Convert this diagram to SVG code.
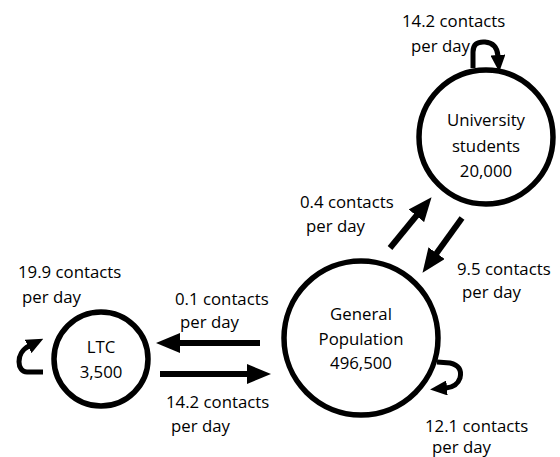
<svg xmlns="http://www.w3.org/2000/svg" width="560" height="457" viewBox="0 0 560 457">
<defs>
<style>
text{font-family:"Open Sans","Liberation Sans",sans-serif;font-size:16.8px;fill:#000}
.c{text-anchor:middle}
.node{fill:#fff;stroke:#000;stroke-width:5.5}
.arr{fill:none;stroke:#000;stroke-width:6;marker-end:url(#big)}
.loop{fill:none;stroke:#000;stroke-width:5;marker-end:url(#small)}
</style>
<marker id="big" viewBox="0 0 24 20" refX="1" refY="10" markerWidth="24" markerHeight="20" markerUnits="userSpaceOnUse" orient="auto"><path d="M0,0 L24,10 L0,20 Z" fill="#000"/></marker>
<marker id="small" viewBox="0 0 17 15" refX="1" refY="7.5" markerWidth="17" markerHeight="15" markerUnits="userSpaceOnUse" orient="auto"><path d="M0,0 L17,7.5 L0,15 Z" fill="#000"/></marker>
</defs>
<rect width="560" height="457" fill="#fff"/>
<g id="connectors">
<path class="arr" d="M260,343 L179,343"/>
<path class="arr" d="M160,374 L248,374"/>
<path class="arr" d="M390,248 L417,215"/>
<path class="arr" d="M462,218 L436,254"/>
<path class="loop" d="M473,68 L473,52 Q473,41 485,42 Q497,43 498,56"/>
<path class="loop" d="M43,372 L27,372 C17,372 15,353 29,346"/>
<path class="loop" d="M437,362 L450,363 Q463,366 460,378 Q457,387 446,388"/>
</g>
<g id="labels">
<text x="402" y="27">14.2 contacts</text>
<text x="411" y="52">per day</text>
<text x="300" y="208">0.4 contacts</text>
<text x="306" y="232">per day</text>
<text x="457" y="275">9.5 contacts</text>
<text x="462" y="298">per day</text>
<text x="425" y="432">12.1 contacts</text>
<text x="432" y="453">per day</text>
<text x="18" y="278">19.9 contacts</text>
<text x="22" y="303">per day</text>
<text x="175" y="305">0.1 contacts</text>
<text x="180" y="328">per day</text>
<text x="166" y="408">14.2 contacts</text>
<text x="171" y="432">per day</text>
</g>
<g id="university">
<circle class="node" cx="486" cy="137" r="67"/>
<text class="c" x="486" y="126">University</text>
<text class="c" x="486" y="152">students</text>
<text class="c" x="486" y="177">20,000</text>
</g>
<g id="general">
<circle class="node" cx="361" cy="338" r="77"/>
<text class="c" x="361" y="320">General</text>
<text class="c" x="361" y="345">Population</text>
<text class="c" x="361" y="369">496,500</text>
</g>
<g id="ltc">
<circle class="node" cx="101" cy="359" r="47"/>
<text class="c" x="101" y="353">LTC</text>
<text class="c" x="101" y="378">3,500</text>
</g>
</svg>
